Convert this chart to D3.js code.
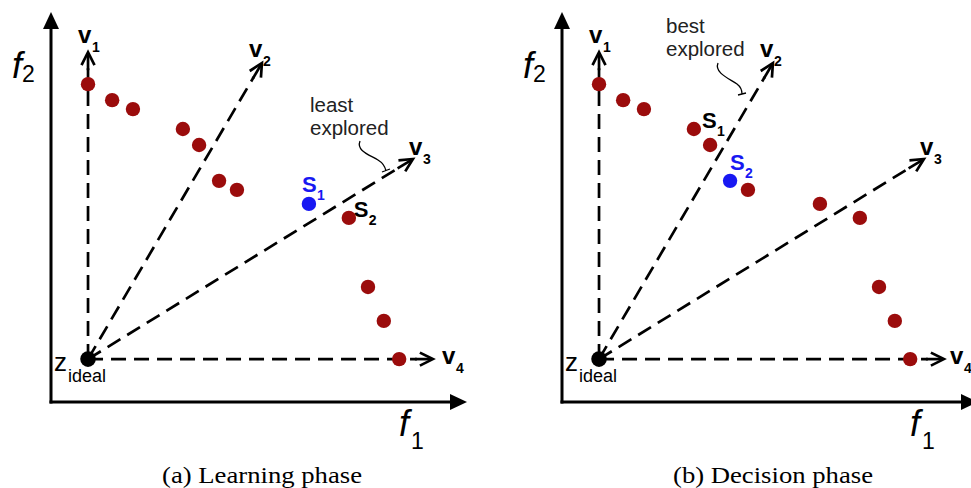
<!DOCTYPE html>
<html><head><meta charset="utf-8">
<script src="https://cdn.jsdelivr.net/npm/d3@7"></script>
<style>html,body{margin:0;padding:0;background:#fff;}svg{display:block;}</style>
</head><body>
<svg id="c" width="971" height="488"></svg>
<script>
// ---- data (objective space, arbitrary units 0..100) ----
const solF1 = [8.9, 14.7, 19.7, 31.7, 35.6, 40.4, 44.7, 62.0, 71.6, 76.2, 80.0, 83.7];
const solF2 = [81.5, 77.4, 75.1, 70.0, 65.9, 56.7, 54.4, 50.8, 47.2, 29.5, 20.8, 11.0];
const idealPoint = [8.9, 11.0];
const vectorNames = ["1", "2", "3", "4"];
const vectorTipF1 = [8.9, 50.7, 87.0, 91.8];
const vectorTipF2 = [89.7, 86.9, 62.3, 11.0];
const panelCaptions = ["(a) Learning phase", "(b) Decision phase"];
const highlighted = [7, 5];              // blue solution per panel
const s1Index = [7, 4];
const s2Index = [8, 5];
const annotationLines = [["least", "explored"], ["best", "explored"]];

// ---- layout ----
const svg = d3.select("#c");
const x = d3.scaleLinear().domain([0, 100]).range([51, 467]);
const y = d3.scaleLinear().domain([0, 100]).range([402, 12]);
const RED = "#9b0c0c", BLUE = "#1818f2";
const SANS = "'Liberation Sans', Arial, sans-serif";
const panelOffset = [0, 511];
// label placement (style)
const vLabelOff = [[[-10, -9], [-13, -6], [-4, -4], [9, 5]], [[-10, -9], [-13, -6], [-4, -4], [6, 5]]];
const sOff = [[[-7, -12], [5, -1]], [[-8, -17], [0, -11]]];
const annot = [
  {tx: 310, ty: [112, 135], path: "M360,141 C356,151 370,155 378,160 C383,163 385,166 386,171 M382,172 L390,169"},
  {tx: 155, ty: [33, 56], path: "M207,63 C203,73 219,79 226,84 C230,87 231,90 231,94 M227,95 L235,93"}
];

function sub(g, px, py, main, s, opts) {
  g.append("text").attr("x", px).attr("y", py)
    .attr("font-family", SANS).attr("font-size", opts.size)
    .attr("font-weight", opts.weight || "normal")
    .attr("font-style", opts.style || "normal")
    .attr("fill", opts.fill || "#000").text(main);
  g.append("text").attr("x", px + opts.dx).attr("y", py + opts.dy)
    .attr("font-family", SANS).attr("font-size", opts.subSize)
    .attr("font-weight", opts.weight || "normal")
    .attr("fill", opts.fill || "#000").text(s);
}

panelCaptions.forEach((cap, p) => {
  const g = svg.append("g").attr("transform", `translate(${panelOffset[p]},0)`);
  const x0 = x(0), y0 = y(0), xMax = x(100), yMax = y(100);

  // axes
  g.append("line").attr("x1", x0).attr("y1", y0 + 1.5).attr("x2", x0).attr("y2", yMax + 14)
    .attr("stroke", "#000").attr("stroke-width", 3);
  g.append("path").attr("d", `M${x0},${yMax} L${x0 - 8},${yMax + 17} L${x0 + 8},${yMax + 17} Z`).attr("fill", "#000");
  g.append("line").attr("x1", x0 - 1.5).attr("y1", y0).attr("x2", xMax - 14).attr("y2", y0)
    .attr("stroke", "#000").attr("stroke-width", 3);
  g.append("path").attr("d", `M${xMax},${y0} L${xMax - 17},${y0 - 8} L${xMax - 17},${y0 + 8} Z`).attr("fill", "#000");

  // axis labels
  sub(g, 12, 78, "f", "2", {size: 36, subSize: 23, style: "italic", dx: 10, dy: 4});
  sub(g, 399, 436, "f", "1", {size: 36, subSize: 23, style: "italic", dx: 12, dy: 13});

  // reference vectors
  const zx = x(idealPoint[0]), zy = y(idealPoint[1]);
  vectorNames.forEach((name, i) => {
    const tx = x(vectorTipF1[i]), ty = y(vectorTipF2[i]);
    const ang = Math.atan2(ty - zy, tx - zx);
    const len = Math.hypot(tx - zx, ty - zy);
    const vg = g.append("g").attr("transform", `translate(${zx},${zy}) rotate(${ang * 180 / Math.PI})`);
    vg.append("line").attr("x1", 0).attr("y1", 0).attr("x2", len - 16).attr("y2", 0)
      .attr("stroke", "#000").attr("stroke-width", 2.7).attr("stroke-dasharray", "15,8");
    vg.append("line").attr("x1", len - 18).attr("y1", 0).attr("x2", len - 1).attr("y2", 0)
      .attr("stroke", "#000").attr("stroke-width", 2.7);
    vg.append("path").attr("d", `M${len - 13},-6.5 L${len},0 L${len - 13},6.5`)
      .attr("fill", "none").attr("stroke", "#000").attr("stroke-width", 2.7)
      .attr("stroke-linejoin", "miter");
    const off = vLabelOff[p][i];
    sub(g, tx + off[0], ty + off[1], "v", name,
      {size: 24, subSize: 14, weight: "bold", dx: 14, dy: 9});
  });

  // solutions
  g.selectAll("circle.sol").data(solF1).enter().append("circle").attr("class", "sol")
    .attr("cx", d => x(d)).attr("cy", (d, i) => y(solF2[i])).attr("r", 7.2)
    .attr("fill", (d, i) => i === highlighted[p] ? BLUE : RED);

  // ideal point
  g.append("circle").attr("cx", zx).attr("cy", zy).attr("r", 7.8).attr("fill", "#000");
  g.append("text").attr("x", 54).attr("y", 371).attr("font-family", SANS).attr("font-size", 26).text("z");
  g.append("text").attr("x", 68).attr("y", 382).attr("font-family", SANS).attr("font-size", 18).text("ideal");

  // S labels
  [[s1Index[p], "1"], [s2Index[p], "2"]].forEach(([idx, n], k) => {
    const off = sOff[p][k];
    sub(g, x(solF1[idx]) + off[0], y(solF2[idx]) + off[1], "S", n,
      {size: 22, subSize: 14, weight: "bold", dx: 15, dy: 8, fill: idx === highlighted[p] ? BLUE : "#000"});
  });

  // annotation
  const a = annot[p];
  annotationLines[p].forEach((t, k) => {
    g.append("text").attr("x", a.tx).attr("y", a.ty[k]).attr("font-family", SANS)
      .attr("font-size", 20.5).attr("fill", "#222").text(t);
  });
  g.append("path").attr("d", a.path).attr("fill", "none").attr("stroke", "#000").attr("stroke-width", 1.3);

  // caption
  g.append("text").attr("x", 262).attr("y", 483).attr("text-anchor", "middle")
    .attr("font-family", "'Liberation Serif', 'Times New Roman', serif").attr("font-size", 24)
    .attr("textLength", 200).attr("lengthAdjust", "spacingAndGlyphs").text(cap);
});
</script>
</body></html>
